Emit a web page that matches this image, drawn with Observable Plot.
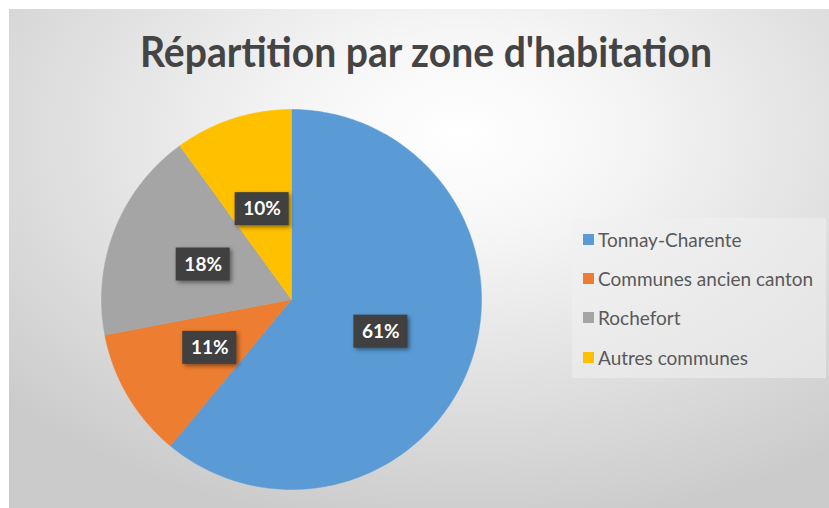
<!DOCTYPE html>
<html>
<head>
<meta charset="utf-8">
<script src="https://cdn.jsdelivr.net/npm/d3@7"></script>
<script src="https://cdn.jsdelivr.net/npm/@observablehq/plot@0.6"></script>
<style>
  html, body { margin: 0; padding: 0; background: #ffffff; }
  #frame {
    position: absolute; left: 9px; top: 9px; width: 820px; height: 499px; overflow: hidden;
    background: radial-gradient(ellipse 75% 80% at 55% 25%, #ffffff 0%, #f6f6f6 25%, #e2e2e2 60%, #cbcbcb 100%);
  }
  #title {
    position: absolute; top: 21px; left: 417px; white-space: nowrap;
    font-family: Lato, "Open Sans", sans-serif; font-weight: bold; font-size: 42px; line-height: 1;
    color: #444444; transform-origin: 0 0;
  }
  #chart { position: absolute; left: 0; top: 86px; }
  #legend {
    position: absolute; left: 563px; top: 209px; width: 254px; height: 160px;
    background: rgba(240,240,240,0.55); box-sizing: border-box; padding-top: 1.5px;
    font-family: Lato, "Open Sans", sans-serif; font-size: 19px; color: #595959;
  }
  .row { height: 39.3px; display: flex; align-items: center; padding-left: 11px; }
  .sw { width: 11px; height: 11px; margin-right: 4px; flex: none; }
</style>
</head>
<body>
<div id="frame">
  <div id="title"></div>
  <div id="chart"></div>
  <div id="legend"></div>
</div>
<script>
const title = "Répartition par zone d'habitation";
const categories = ["Tonnay-Charente", "Communes ancien canton", "Rochefort", "Autres communes"];
const values = [61, 11, 18, 10];
const colors = ["#5B9BD5", "#ED7D31", "#A5A5A5", "#FFC000"];

// Title, scaled to the reference width
const t = document.getElementById("title");
t.textContent = title;
const tw = t.getBoundingClientRect().width;
const k = 572 / tw;
t.style.transform = `scaleX(${k}) translateX(-50%)`;

// Legend
const legend = document.getElementById("legend");
categories.forEach((c, i) => {
  const row = document.createElement("div");
  row.className = "row";
  const sw = document.createElement("span");
  sw.className = "sw";
  sw.style.background = colors[i];
  const lab = document.createElement("span");
  lab.textContent = c;
  row.appendChild(sw); row.appendChild(lab);
  legend.appendChild(row);
});

// Pie geometry (unit radius, clockwise from 12 o'clock)
const R = 190, cx = 282, cy = 204, W = 820, H = 413;
const table = categories.map((c, i) => ({category: c, value: values[i]}));
const arcs = d3.pie().sort(null).value(d => d.value)(table);

const slicePts = [];
arcs.forEach(a => {
  const c = a.data.category;
  slicePts.push({category: c, x: 0, y: 0});
  const n = Math.max(2, Math.ceil((a.endAngle - a.startAngle) / (Math.PI / 180)));
  for (let j = 0; j <= n; j++) {
    const ang = a.startAngle + (a.endAngle - a.startAngle) * j / n;
    slicePts.push({category: c, x: Math.sin(ang), y: Math.cos(ang)});
  }
  slicePts.push({category: c, x: 0, y: 0});
});

const bw = 27 / R, bh = 16.5 / R;
const labels = arcs.map(a => {
  const m = (a.startAngle + a.endAngle) / 2;
  return {category: a.data.category, text: `${a.data.value}%`, x: 0.5 * Math.sin(m), y: 0.5 * Math.cos(m)};
});

const plot = Plot.plot({
  width: W, height: H, margin: 0,
  x: {domain: [-cx / R, (W - cx) / R], axis: null},
  y: {domain: [-(H - cy) / R, cy / R], axis: null},
  color: {domain: categories, range: colors},
  style: {background: "transparent", overflow: "visible"},
  marks: [
    Plot.line(slicePts, {x: "x", y: "y", z: "category", fill: "category", stroke: "category", strokeWidth: 0.5, curve: "linear"}),
    Plot.rect(labels, {x1: d => d.x - bw, x2: d => d.x + bw, y1: d => d.y - bh, y2: d => d.y + bh, fill: "#404040"}),
    Plot.text(labels, {x: "x", y: "y", text: "text", fill: "white", fontSize: 19, fontWeight: "bold", fontFamily: "Lato, 'Open Sans', sans-serif"})
  ]
});
document.getElementById("chart").appendChild(plot);
const rg = plot.querySelector('g[aria-label="rect"]');
if (rg) rg.style.filter = "drop-shadow(2px 2px 2px rgba(0,0,0,0.45))";
</script>
</body>
</html>
